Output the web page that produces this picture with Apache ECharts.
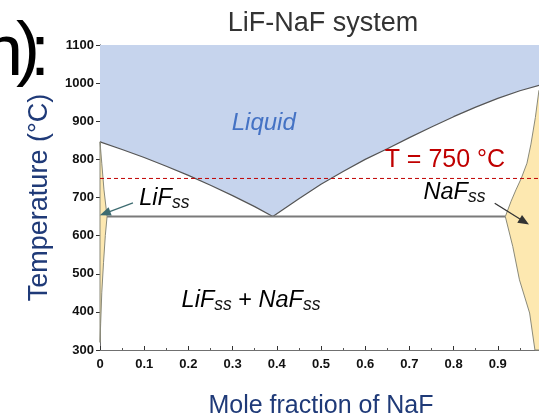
<!DOCTYPE html>
<html>
<head>
<meta charset="utf-8">
<script src="https://cdn.jsdelivr.net/npm/echarts@6/dist/echarts.min.js"></script>
<style>
  html, body { margin: 0; padding: 0; background: #ffffff; }
  #chart { width: 539px; height: 417px; }
</style>
</head>
<body>
<div id="chart"></div>
<script>
const FONT = '"Liberation Sans", Arial, Helvetica, sans-serif';

// Phase boundaries: [mole fraction NaF, temperature °C]
const liquidus = [
  [0, 846], [0.05, 826], [0.1, 805], [0.15, 782], [0.2, 758], [0.25, 732],
  [0.3, 705], [0.35, 676], [0.391, 650], [0.45, 697], [0.5, 735], [0.55, 768],
  [0.6, 800], [0.65, 828], [0.7, 857], [0.75, 885], [0.8, 912], [0.85, 937],
  [0.9, 960], [0.95, 980], [1, 996]
];
const lifSolidSolution = [
  [0, 846], [0.004, 790], [0.009, 720], [0.016, 650], [0.012, 600],
  [0.008, 530], [0.004, 450], [0.0015, 370], [0, 320]
];
const nafSolidSolution = [
  [1, 996], [0.993, 980], [0.985, 910], [0.975, 840], [0.966, 790],
  [0.953, 750], [0.941, 720], [0.93, 690], [0.917, 650], [0.934, 571],
  [0.949, 484], [0.972, 397], [0.984, 300], [1, 300]
];
const eutecticLine = [[0.016, 650], [0.917, 650]];
const isothermT = 750;

// Pointer arrows: [start, tip]
const arrowLiF = [[0.0746, 686], [0.0113, 658.6]];
const arrowNaF = [[0.893, 684.8], [0.960, 636.5]];

// Region labels (anchor = left edge, vertical centre)
const labelTexts = [
  'Liquid',
  'T = 750 °C',
  '{m|LiF}{s|ss}',
  '{m|NaF}{s|ss}',
  '{m|LiF}{s|ss}{p| + }{m|NaF}{s|ss}'
];
const labelAnchors = [
  [0.298, 895], [0.644, 797], [0.0888, 698], [0.732, 714], [0.1846, 431]
];

const xTickLabels = ['0', '0.1', '0.2', '0.3', '0.4', '0.5', '0.6', '0.7', '0.8', '0.9', ''];
const yTickLabels = ['300', '400', '500', '600', '700', '800', '900', '1000', '1100'];

const chart = echarts.init(document.getElementById('chart'), null, { renderer: 'canvas' });

const frameLine = { show: true, lineStyle: { color: '#707070', width: 1 } };
const richItalic = {
  m: { fontFamily: FONT, fontSize: 23.5, fontStyle: 'italic', fill: '#000', lineHeight: 28 },
  s: { fontFamily: FONT, fontSize: 17.5, fontStyle: 'italic', fill: '#111', lineHeight: 8, verticalAlign: 'bottom' },
  p: { fontFamily: FONT, fontSize: 23.5, fill: '#000', lineHeight: 28 }
};
const labelStyles = [
  { fontFamily: FONT, fontSize: 24, fontStyle: 'italic', fill: '#4472c4' },
  { fontFamily: FONT, fontSize: 25, fill: '#c00000' },
  { rich: richItalic }, { rich: richItalic }, { rich: richItalic }
];

const headFont = '72px ' + FONT;

const option = {
  animation: false,
  backgroundColor: '#ffffff',
  title: {
    text: 'LiF-NaF system',
    left: 318,
    textAlign: 'center',
    top: 5,
    textStyle: { fontFamily: FONT, fontSize: 27, fontWeight: 'normal', color: '#333' }
  },
  graphic: [
    { type: 'text', style: { text: 'n', x: 23, y: 55, font: headFont, fill: '#000', align: 'right', verticalAlign: 'middle' } },
    { type: 'text', style: { text: ')', x: 16, y: 52, font: headFont, fill: '#000', align: 'left', verticalAlign: 'middle' } },
    { type: 'text', style: { text: ':', x: 30, y: 55, font: headFont, fill: '#000', align: 'left', verticalAlign: 'middle' } }
  ],
  grid: { left: 100, top: 45, width: 442, height: 305, containLabel: false, outerBoundsMode: 'none' },
  xAxis: [{
    type: 'value', min: 0, max: 1, interval: 0.1, position: 'bottom',
    name: 'Mole fraction of NaF', nameLocation: 'middle', nameGap: 44,
    nameTextStyle: { fontFamily: FONT, fontSize: 25, color: '#1f3a78' },
    axisLine: frameLine,
    axisTick: { show: true, inside: true, length: 4, lineStyle: { color: '#333' } },
    minorTick: { show: true, splitNumber: 2, length: 2, lineStyle: { color: '#555' } },
    axisLabel: {
      margin: 8, fontFamily: FONT, fontSize: 13, fontWeight: 'bold', color: '#111',
      formatter: v => xTickLabels[Math.round(v * 10)]
    },
    splitLine: { show: false }
  }, {
    type: 'value', min: 0, max: 1, interval: 0.1, position: 'top',
    axisLine: frameLine,
    axisTick: { show: true, inside: true, length: 4, lineStyle: { color: '#333' } },
    minorTick: { show: true, splitNumber: 2, length: 2, lineStyle: { color: '#555' } },
    axisLabel: { show: false },
    splitLine: { show: false }
  }],
  yAxis: [{
    type: 'value', min: 300, max: 1100, interval: 100, position: 'left',
    name: 'Temperature (°C)', nameLocation: 'middle', nameGap: 47, nameRotate: 90,
    nameTextStyle: { fontFamily: FONT, fontSize: 27, color: '#1f3a78' },
    axisLine: frameLine,
    axisTick: { show: true, inside: false, length: 4, lineStyle: { color: '#333' } },
    axisLabel: {
      margin: 6, fontFamily: FONT, fontSize: 13, fontWeight: 'bold', color: '#111',
      formatter: v => yTickLabels[Math.round((v - 300) / 100)]
    },
    splitLine: { show: false }
  }, {
    type: 'value', min: 300, max: 1100, interval: 100, position: 'right',
    axisLine: frameLine,
    axisTick: { show: true, inside: true, length: 4, lineStyle: { color: '#333' } },
    axisLabel: { show: false },
    splitLine: { show: false }
  }],
  series: [
    {
      // liquid field: filled from the liquidus up to the top of the axis
      type: 'line', name: 'liquidus', data: liquidus, symbol: 'none', z: 2,
      lineStyle: { color: '#555', width: 1.2 },
      areaStyle: { origin: 'end', color: '#c6d4ed', opacity: 1 }
    },
    {
      type: 'custom', name: 'solid solutions', z: 3,
      data: [lifSolidSolution[0], nafSolidSolution[0]],
      renderItem: function (params, api) {
        const poly = [lifSolidSolution, nafSolidSolution][params.dataIndex];
        return {
          type: 'polygon',
          shape: { points: poly.map(p => api.coord(p)) },
          style: { fill: '#fde8b0', stroke: '#8a8a7a', lineWidth: 1 }
        };
      }
    },
    {
      type: 'line', name: 'eutectic', data: eutecticLine, symbol: 'none', z: 4,
      lineStyle: { color: '#7a7a7a', width: 2 }
    },
    {
      type: 'line', name: 'isotherm', data: [[0, isothermT], [1, isothermT]], symbol: 'none', z: 5,
      lineStyle: { color: '#c00000', width: 1, type: [4, 3] }
    },
    {
      type: 'line', name: 'pointers', data: [], z: 6,
      markLine: {
        silent: true, symbol: ['none', 'triangle'], symbolSize: [9, 11],
        label: { show: false },
        data: [
          [{ coord: arrowLiF[0], lineStyle: { color: '#3d6b70', width: 1.3, type: 'solid' } },
           { coord: arrowLiF[1], itemStyle: { color: '#1b4a4f' } }],
          [{ coord: arrowNaF[0], lineStyle: { color: '#333', width: 1.3, type: 'solid' } },
           { coord: arrowNaF[1], itemStyle: { color: '#000' } }]
        ]
      }
    },
    {
      // region names placed at their data anchors
      type: 'custom', name: 'labels', z: 7, silent: true,
      data: labelAnchors,
      renderItem: function (params, api) {
        const i = params.dataIndex;
        const pt = api.coord(labelAnchors[i]);
        return {
          type: 'text', x: pt[0], y: pt[1],
          style: Object.assign({ text: labelTexts[i], align: 'left', verticalAlign: 'middle' }, labelStyles[i])
        };
      }
    }
  ]
};

chart.setOption(option);
</script>
</body>
</html>
